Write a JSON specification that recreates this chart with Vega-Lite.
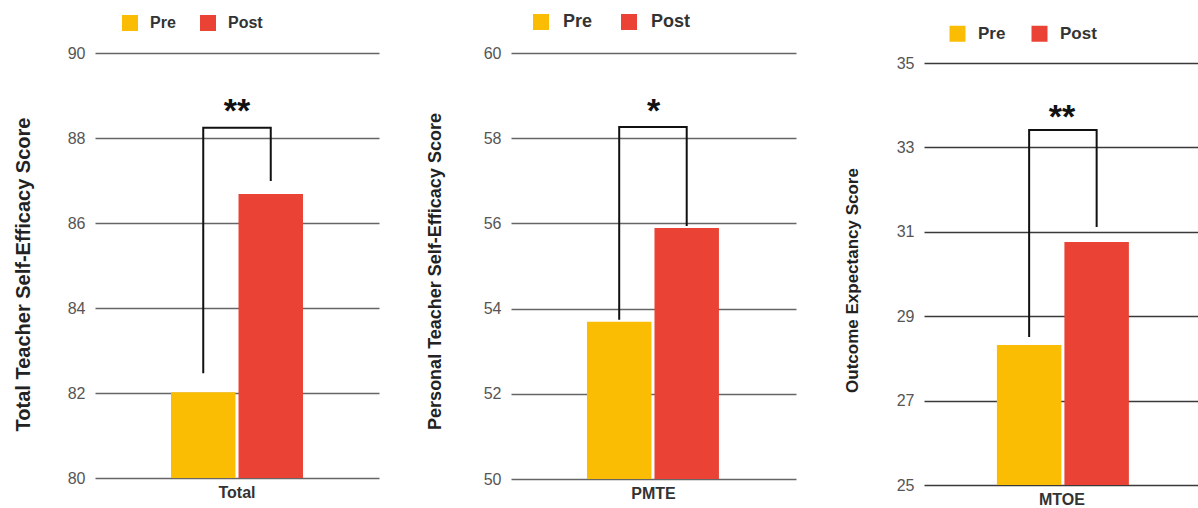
{
  "$schema": "https://vega.github.io/schema/vega-lite/v6.json",
  "background": "white",
  "padding": {"left": 13, "top": 13, "right": 0, "bottom": 0},
  "spacing": 47,
  "resolve": {"scale": {"color": "independent"}, "legend": {"color": "independent"}},
  "config": {
    "view": {"stroke": null},
    "font": "Liberation Sans",
    "axisY": {
      "grid": true, "gridColor": "#666666", "gridWidth": 1.5,
      "domain": false, "ticks": false, "tickSize": 0,
      "labelPadding": 10, "labelFontSize": 16, "labelColor": "#555555",
      "titleFontWeight": "bold", "titleColor": "#222222"
    },
    "axisX": {
      "labelAngle": 0, "labelFontSize": 16, "labelFontWeight": "bold", "labelColor": "#333333",
      "labelPadding": 6, "ticks": false, "tickSize": 0, "domain": false, "grid": false
    },
    "legend": {
      "orient": "none", "direction": "horizontal", "symbolType": "square", "symbolSize": 256,
      "symbolStrokeWidth": 0, "symbolOpacity": 1, "labelFontWeight": "bold", "labelColor": "#333333"
    }
  },
  "datasets": {
    "bars": [
      {"metric": "Total", "phase": "Pre", "score": 82.02},
      {"metric": "Total", "phase": "Post", "score": 86.68},
      {"metric": "PMTE", "phase": "Pre", "score": 53.69},
      {"metric": "PMTE", "phase": "Post", "score": 55.89},
      {"metric": "MTOE", "phase": "Pre", "score": 28.32},
      {"metric": "MTOE", "phase": "Post", "score": 30.76}
    ],
    "brackets": [
      {"metric": "Total", "phase": "Pre", "step": 1, "score": 82.49},
      {"metric": "Total", "phase": "Pre", "step": 2, "score": 88.24},
      {"metric": "Total", "phase": "Post", "step": 3, "score": 88.24},
      {"metric": "Total", "phase": "Post", "step": 4, "score": 87.01},
      {"metric": "PMTE", "phase": "Pre", "step": 1, "score": 53.76},
      {"metric": "PMTE", "phase": "Pre", "step": 2, "score": 58.26},
      {"metric": "PMTE", "phase": "Post", "step": 3, "score": 58.26},
      {"metric": "PMTE", "phase": "Post", "step": 4, "score": 55.96},
      {"metric": "MTOE", "phase": "Pre", "step": 1, "score": 28.53},
      {"metric": "MTOE", "phase": "Pre", "step": 2, "score": 33.41},
      {"metric": "MTOE", "phase": "Post", "step": 3, "score": 33.41},
      {"metric": "MTOE", "phase": "Post", "step": 4, "score": 31.14}
    ],
    "stars": [
      {"metric": "Total", "label": "**", "score": 88.38},
      {"metric": "PMTE", "label": "*", "score": 58.37},
      {"metric": "MTOE", "label": "**", "score": 33.45}
    ]
  },
  "hconcat": [
    {
      "width": 284, "height": 425,
      "encoding": {
        "x": {"field": "metric", "type": "nominal", "scale": {"paddingInner": 0, "paddingOuter": 0.576}, "axis": {"orient": "bottom", "title": null}},
        "y": {"field": "score", "type": "quantitative", "title": "Total Teacher Self-Efficacy Score",
          "scale": {"domain": [80, 90], "nice": false, "zero": false, "clamp": true},
          "axis": {"values": [80, 82, 84, 86, 88, 90], "titleFontSize": 20, "titlePadding": 34, "titleY": 221}}
      },
      "layer": [
        {
          "data": {"name": "bars"},
          "transform": [{"filter": "datum.metric === 'Total'"}],
          "mark": {"type": "bar"},
          "encoding": {
            "xOffset": {"field": "phase", "type": "nominal", "sort": ["Pre", "Post"], "scale": {"paddingInner": 0.045, "paddingOuter": 0}},
            "color": {"field": "phase", "type": "nominal", "sort": ["Pre", "Post"],
              "scale": {"domain": ["Pre", "Post"], "range": ["#FBBC04", "#EA4335"]},
              "legend": {"title": null, "legendX": 27, "legendY": -38, "labelFontSize": 16, "labelOffset": 12, "columnPadding": 24}}
          }
        },
        {
          "data": {"name": "brackets"},
          "transform": [{"filter": "datum.metric === 'Total'"}],
          "mark": {"type": "line", "color": "#111111", "strokeWidth": 2, "strokeCap": "square", "strokeJoin": "miter"},
          "encoding": {
            "xOffset": {"field": "phase", "type": "nominal", "sort": ["Pre", "Post"]},
            "order": {"field": "step", "type": "quantitative"}
          }
        },
        {
          "data": {"name": "stars"},
          "transform": [{"filter": "datum.metric === 'Total'"}],
          "mark": {"type": "text", "font": "Liberation Sans", "fontWeight": "bold", "fontSize": 34, "baseline": "alphabetic", "color": "#111111"},
          "encoding": {"text": {"field": "label"}}
        }
      ]
    },
    {
      "width": 285, "height": 426,
      "encoding": {
        "x": {"field": "metric", "type": "nominal", "scale": {"paddingInner": 0, "paddingOuter": 0.571}, "axis": {"orient": "bottom", "title": null}},
        "y": {"field": "score", "type": "quantitative", "title": "Personal Teacher Self-Efficacy Score",
          "scale": {"domain": [50, 60], "nice": false, "zero": false, "clamp": true},
          "axis": {"values": [50, 52, 54, 56, 58, 60], "titleFontSize": 18, "titlePadding": 39, "titleY": 218}}
      },
      "layer": [
        {
          "data": {"name": "bars"},
          "transform": [{"filter": "datum.metric === 'PMTE'"}],
          "mark": {"type": "bar"},
          "encoding": {
            "xOffset": {"field": "phase", "type": "nominal", "sort": ["Pre", "Post"], "scale": {"paddingInner": 0.045, "paddingOuter": 0}},
            "color": {"field": "phase", "type": "nominal", "sort": ["Pre", "Post"],
              "scale": {"domain": ["Pre", "Post"], "range": ["#FBBC04", "#EA4335"]},
              "legend": {"title": null, "legendX": 21, "legendY": -40, "labelFontSize": 18, "labelOffset": 13, "columnPadding": 27}}
          }
        },
        {
          "data": {"name": "brackets"},
          "transform": [{"filter": "datum.metric === 'PMTE'"}],
          "mark": {"type": "line", "color": "#111111", "strokeWidth": 2, "strokeCap": "square", "strokeJoin": "miter"},
          "encoding": {
            "xOffset": {"field": "phase", "type": "nominal", "sort": ["Pre", "Post"]},
            "order": {"field": "step", "type": "quantitative"}
          }
        },
        {
          "data": {"name": "stars"},
          "transform": [{"filter": "datum.metric === 'PMTE'"}],
          "mark": {"type": "text", "font": "Liberation Sans", "fontWeight": "bold", "fontSize": 34, "baseline": "alphabetic", "color": "#111111"},
          "encoding": {"text": {"field": "label"}}
        }
      ]
    },
    {
      "width": 276, "height": 432,
      "encoding": {
        "x": {"field": "metric", "type": "nominal", "scale": {"paddingInner": 0, "paddingOuter": 0.56}, "axis": {"orient": "bottom", "title": null}},
        "y": {"field": "score", "type": "quantitative", "title": "Outcome Expectancy Score",
          "scale": {"domain": [25, 35], "range": [432, 10], "nice": false, "zero": false, "clamp": true},
          "axis": {"values": [25, 27, 29, 31, 33, 35], "titleFontSize": 17, "titlePadding": 35, "titleY": 227, "gridColor": "#3a3a3a"}}
      },
      "layer": [
        {
          "data": {"name": "bars"},
          "transform": [{"filter": "datum.metric === 'MTOE'"}],
          "mark": {"type": "bar"},
          "encoding": {
            "xOffset": {"field": "phase", "type": "nominal", "sort": ["Pre", "Post"], "scale": {"paddingInner": 0.06, "paddingOuter": 0}},
            "color": {"field": "phase", "type": "nominal", "sort": ["Pre", "Post"],
              "scale": {"domain": ["Pre", "Post"], "range": ["#FBBC04", "#EA4335"]},
              "legend": {"title": null, "legendX": 25, "legendY": -28, "labelFontSize": 17, "labelOffset": 12, "columnPadding": 25}}
          }
        },
        {
          "data": {"name": "brackets"},
          "transform": [{"filter": "datum.metric === 'MTOE'"}],
          "mark": {"type": "line", "color": "#111111", "strokeWidth": 2, "strokeCap": "square", "strokeJoin": "miter"},
          "encoding": {
            "xOffset": {"field": "phase", "type": "nominal", "sort": ["Pre", "Post"]},
            "order": {"field": "step", "type": "quantitative"}
          }
        },
        {
          "data": {"name": "stars"},
          "transform": [{"filter": "datum.metric === 'MTOE'"}],
          "mark": {"type": "text", "font": "Liberation Sans", "fontWeight": "bold", "fontSize": 34, "baseline": "alphabetic", "color": "#111111"},
          "encoding": {"text": {"field": "label"}}
        }
      ]
    }
  ]
}
